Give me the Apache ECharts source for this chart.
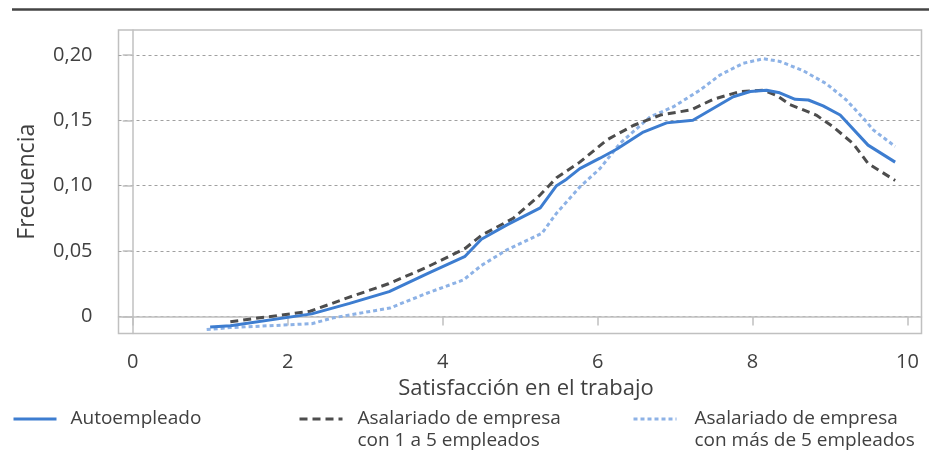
<!DOCTYPE html>
<html>
<head>
<meta charset="utf-8">
<script src="https://cdn.jsdelivr.net/npm/echarts@6/dist/echarts.min.js"></script>
<style>
  html, body { margin: 0; padding: 0; background: #fff; }
  #chart { width: 929px; height: 450px; }
</style>
</head>
<body>
<div id="chart"></div>
<script>
// datos
var yTicks = [0, 0.05, 0.10, 0.15, 0.20];
var xTicks = [0, 2, 4, 6, 8, 10];

var nombres = [
  'Autoempleado',
  'Asalariado de empresa\ncon 1 a 5 empleados',
  'Asalariado de empresa\ncon más de 5 empleados'
];

var xAuto = [1.00, 1.26, 2.31, 2.80, 3.31, 3.81, 4.29, 4.50, 4.83, 5.26, 5.47, 5.60, 5.77, 6.03, 6.25, 6.59, 6.89, 7.23, 7.49, 7.75, 7.97, 8.18, 8.35, 8.55, 8.72, 8.91, 9.13, 9.49, 9.84];
var yAuto = [-0.008, -0.007, 0.002, 0.010, 0.019, 0.033, 0.046, 0.059, 0.070, 0.083, 0.100, 0.105, 0.113, 0.121, 0.128, 0.141, 0.148, 0.150, 0.159, 0.168, 0.172, 0.173, 0.171, 0.166, 0.1655, 0.161, 0.154, 0.131, 0.118];

var xPeq = [1.26, 2.29, 2.76, 3.30, 3.79, 4.29, 4.50, 4.91, 5.26, 5.47, 5.77, 6.12, 6.46, 6.81, 7.21, 7.49, 7.84, 8.14, 8.31, 8.48, 8.61, 8.82, 9.04, 9.30, 9.49, 9.84];
var yPeq = [-0.004, 0.004, 0.014, 0.025, 0.0375, 0.052, 0.062, 0.075, 0.093, 0.106, 0.118, 0.135, 0.146, 0.154, 0.158, 0.166, 0.172, 0.173, 0.169, 0.162, 0.159, 0.154, 0.145, 0.132, 0.117, 0.104];

var xGran = [0.955, 1.26, 2.31, 2.59, 3.32, 3.79, 4.27, 4.50, 4.83, 5.28, 5.47, 5.77, 6.03, 6.29, 6.68, 6.98, 7.32, 7.58, 7.88, 8.14, 8.35, 8.65, 8.95, 9.21, 9.43, 9.56, 9.84];
var yGran = [-0.010, -0.0085, -0.0055, -0.001, 0.0065, 0.0176, 0.028, 0.039, 0.051, 0.0635, 0.079, 0.099, 0.113, 0.1324, 0.1527, 0.1604, 0.173, 0.1846, 0.1936, 0.197, 0.195, 0.188, 0.178, 0.1655, 0.1515, 0.1425, 0.130];

function pares(xs, ys) {
  return xs.map(function (x, i) { return [x, ys[i]]; });
}

var fuente = "'Open Sans', sans-serif";
var gris = '#404040';

var chart = echarts.init(document.getElementById('chart'), null, { renderer: 'canvas' });

// una leyenda por serie; la primera línea del texto queda a la altura del trazo
function leyenda(nombre, left, top, padIzq, dosLineas) {
  return {
    data: [nombre],
    left: left,
    top: top,
    padding: 0,
    itemWidth: 43,
    itemHeight: 14,
    selectedMode: false,
    lineStyle: { width: 3 },
    itemStyle: { color: 'rgba(0,0,0,0)', borderColor: 'rgba(0,0,0,0)', borderWidth: 0, opacity: 0 },
    formatter: function (n) { return dosLineas ? '\n' + n : n; },
    textStyle: {
      fontFamily: fuente,
      fontSize: 19,
      lineHeight: 22,
      color: gris,
      padding: [0, 0, 0, padIzq]
    }
  };
}

chart.setOption({
  animation: false,
  backgroundColor: '#fff',
  textStyle: { fontFamily: fuente },
  graphic: [{
    type: 'line',
    shape: { x1: 12, y1: 9.5, x2: 929, y2: 9.5 },
    style: { stroke: '#444', lineWidth: 2.5 }
  }],
  grid: {
    left: 118.5,
    top: 30,
    right: 7.5,
    bottom: 116.5,
    show: true,
    borderColor: '#c0c0c0',
    borderWidth: 1.5
  },
  legend: [
    leyenda(nombres[0], 12, 408, 9, false),
    leyenda(nombres[1], 298, 386, 10, true),
    leyenda(nombres[2], 632, 386, 13, true)
  ],
  xAxis: {
    type: 'value',
    min: -0.183,
    max: 10.18,
    name: 'Satisfacción en el trabajo',
    nameLocation: 'middle',
    nameGap: 41,
    nameTextStyle: { fontFamily: fuente, fontSize: 22, color: gris, padding: [0, 0, 0, 12] },
    axisLine: { show: true, lineStyle: { color: '#c0c0c0', width: 1.5 } },
    axisTick: { show: true, length: 9, customValues: xTicks, lineStyle: { color: '#c0c0c0', width: 1.5 } },
    axisLabel: { customValues: xTicks, margin: 19, fontFamily: fuente, fontSize: 20, color: gris },
    splitLine: { show: false }
  },
  yAxis: {
    type: 'value',
    min: -0.013,
    max: 0.219,
    name: 'Frecuencia',
    nameLocation: 'middle',
    nameGap: 80,
    nameTextStyle: { fontFamily: fuente, fontSize: 23, color: gris },
    axisLine: { show: true, lineStyle: { color: '#c0c0c0', width: 1.5 } },
    axisTick: { show: true, length: 10, customValues: yTicks, lineStyle: { color: '#c0c0c0', width: 1.5 } },
    axisLabel: {
      customValues: yTicks,
      margin: 26,
      fontFamily: fuente,
      fontSize: 20,
      color: gris,
      formatter: function (v) {
        return v === 0 ? '0' : v.toFixed(2).replace('.', ',');
      }
    },
    splitLine: { show: true, lineStyle: { color: '#a0a0a0', width: 1, type: [3, 3] } }
  },
  series: [
    {
      name: nombres[0],
      type: 'line',
      data: pares(xAuto, yAuto),
      symbol: 'none',
      z: 4,
      lineStyle: { color: '#3d7dd0', width: 3 },
      itemStyle: { color: '#3d7dd0' }
    },
    {
      name: nombres[1],
      type: 'line',
      data: pares(xPeq, yPeq),
      symbol: 'none',
      z: 3,
      lineStyle: { color: '#4d4d4d', width: 3, type: [8, 5] },
      itemStyle: { color: '#4d4d4d' }
    },
    {
      name: nombres[2],
      type: 'line',
      data: pares(xGran, yGran),
      symbol: 'none',
      z: 2,
      lineStyle: { color: '#8db2e6', width: 3, type: [4, 3] },
      itemStyle: { color: '#8db2e6' }
    }
  ]
});
</script>
</body>
</html>
